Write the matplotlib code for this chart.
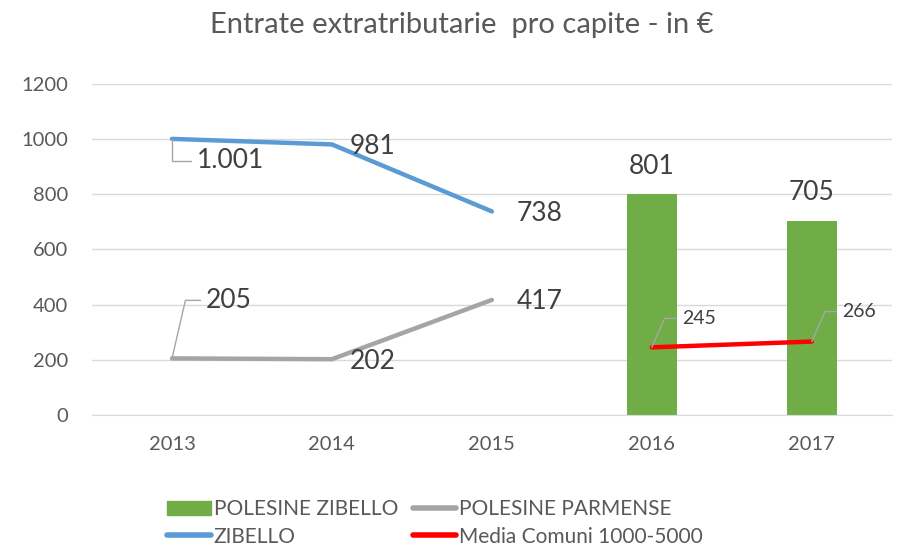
import numpy as np
import matplotlib
matplotlib.use("Agg")
import matplotlib.pyplot as plt
from matplotlib.lines import Line2D
from matplotlib.patches import Patch

plt.rcParams['font.family'] = ['Lato', 'DejaVu Sans']

# data
years = ['2013', '2014', '2015', '2016', '2017']
zibello = [1001, 981, 738]                 # 2013-2015
polesine_parmense = [205, 202, 417]        # 2013-2015
polesine_zibello = [801, 705]              # 2016-2017 bars
media_comuni = [245, 266]                  # 2016-2017
zibello_labels = ['1.001', '981', '738']

GREEN = '#70AD47'
BLUE = '#5B9BD5'
GREY = '#A5A5A5'
RED = '#FF0000'
TXT = '#404040'
TICK = '#595959'

fig = plt.figure(figsize=(8.97, 5.51), dpi=100)
ax = fig.add_axes([0.1026, 0.247, 0.8915, 0.6005])

x = np.arange(len(years))
x_old = x[:3]
x_new = x[3:]

ax.bar(x_new, polesine_zibello, width=0.31, color=GREEN, zorder=2)
ax.plot(x_old, zibello, color=BLUE, lw=3.2, solid_capstyle='round', zorder=3)
ax.plot(x_old, polesine_parmense, color=GREY, lw=3.2, solid_capstyle='round', zorder=3)
ax.plot(x_new, media_comuni, color=RED, lw=3.2, solid_capstyle='round', zorder=3)

ax.set_xlim(-0.5, 4.5)
ax.set_ylim(0, 1200)
ax.set_yticks(range(0, 1201, 200))
ax.set_xticks(x)
ax.set_xticklabels(years)
ax.grid(axis='y', color='#D9D9D9', lw=1, zorder=0)
ax.set_axisbelow(True)
for s in ['top', 'right', 'left']:
    ax.spines[s].set_visible(False)
ax.spines['bottom'].set_color('#D9D9D9')
ax.tick_params(axis='both', length=0, labelsize=14.5, colors=TICK)
ax.tick_params(axis='y', pad=17)
ax.tick_params(axis='x', pad=15)

big = 19
lead = dict(arrowstyle='-', color='#A6A6A6', lw=1, relpos=(0, 0.5),
            shrinkA=2, shrinkB=0)

# ZIBELLO labels
ax.annotate(zibello_labels[0], (x_old[0], zibello[0]), xytext=(25, -22),
            textcoords='offset pixels', fontsize=big, color=TXT, va='center',
            arrowprops=dict(lead, connectionstyle='angle,angleA=0,angleB=90,rad=0'))
ax.annotate(zibello_labels[1], (x_old[1], zibello[1]), xytext=(18, -2),
            textcoords='offset pixels', fontsize=big, color=TXT, va='center')
ax.annotate(zibello_labels[2], (x_old[2], zibello[2]), xytext=(25, -2),
            textcoords='offset pixels', fontsize=big, color=TXT, va='center')

# POLESINE PARMENSE labels
ax.annotate(str(polesine_parmense[0]), (x_old[0], polesine_parmense[0]), xytext=(34, 58),
            textcoords='offset pixels', fontsize=big, color=TXT, va='center',
            arrowprops=dict(lead, connectionstyle='angle,angleA=0,angleB=77,rad=0'))
ax.annotate(str(polesine_parmense[1]), (x_old[1], polesine_parmense[1]), xytext=(18, -2),
            textcoords='offset pixels', fontsize=big, color=TXT, va='center')
ax.annotate(str(polesine_parmense[2]), (x_old[2], polesine_parmense[2]), xytext=(25, -2),
            textcoords='offset pixels', fontsize=big, color=TXT, va='center')

# bar labels
for xi, v in zip(x_new, polesine_zibello):
    ax.annotate(str(v), (xi, v), xytext=(0, 28), textcoords='offset pixels',
                fontsize=big, color=TXT, ha='center', va='center')

# media comuni labels
ax.annotate(str(media_comuni[0]), (x_new[0], media_comuni[0]), xytext=(30, 29),
            textcoords='offset pixels', fontsize=14, color=TXT, va='center',
            arrowprops=dict(lead, connectionstyle='angle,angleA=0,angleB=66,rad=0'))
ax.annotate(str(media_comuni[1]), (x_new[1], media_comuni[1]), xytext=(30, 30),
            textcoords='offset pixels', fontsize=14, color=TXT, va='center',
            arrowprops=dict(lead, connectionstyle='angle,angleA=0,angleB=66,rad=0'))

fig.text(0.515, 0.955, 'Entrate extratributarie  pro capite - in €', ha='center',
         va='center', fontsize=21, color=TICK)

# legend fills column by column
handles = [Patch(color=GREEN),
           Line2D([], [], color=BLUE, lw=4, solid_capstyle='round'),
           Line2D([], [], color=GREY, lw=4, solid_capstyle='round'),
           Line2D([], [], color=RED, lw=4, solid_capstyle='round')]
names = ['POLESINE ZIBELLO', 'ZIBELLO', 'POLESINE PARMENSE', 'Media Comuni 1000-5000']
fig.legend(handles, names, ncol=2, loc='center left', bbox_to_anchor=(0.165, 0.051),
           frameon=False, fontsize=15, labelcolor=TICK, handlelength=2.1,
           handletextpad=0.15, columnspacing=0.7, labelspacing=0.35)

fig.savefig('out.png', dpi=100)
